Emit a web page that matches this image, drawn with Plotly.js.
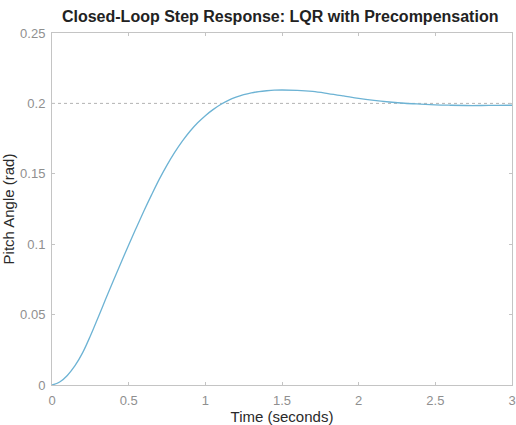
<!DOCTYPE html>
<html>
<head>
<meta charset="utf-8">
<script src="https://cdn.plot.ly/plotly-3.0.1.min.js"></script>
<style>html,body{margin:0;padding:0;background:#fff;}#chart{width:516px;height:425px;}</style>
</head>
<body>
<div id="chart"></div>
<script>
const timeSec = [0, 0.05, 0.1, 0.15, 0.2, 0.25, 0.3, 0.35, 0.4, 0.45, 0.5, 0.55, 0.6, 0.65, 0.7, 0.75, 0.8, 0.85, 0.9, 0.95, 1.0, 1.05, 1.1, 1.15, 1.2, 1.25, 1.3, 1.35, 1.4, 1.45, 1.5, 1.6, 1.7, 1.8, 1.9, 2.0, 2.1, 2.2, 2.3, 2.4, 2.5, 2.6, 2.7, 2.8, 2.9, 3.0];
const pitchAngle = [0, 0.0021, 0.0068, 0.0137, 0.0230, 0.0348, 0.0478, 0.0610, 0.0741, 0.0869, 0.0995, 0.1117, 0.1237, 0.1352, 0.1462, 0.1562, 0.1652, 0.1732, 0.1802, 0.1862, 0.1913, 0.1956, 0.1992, 0.2021, 0.2044, 0.2062, 0.2075, 0.2084, 0.2090, 0.2094, 0.2095, 0.2093, 0.2085, 0.2070, 0.2053, 0.2035, 0.2021, 0.2010, 0.2001, 0.1995, 0.1990, 0.1987, 0.1985, 0.1985, 0.1986, 0.1987];
const steadyStateX = [0, 3];
const steadyStateY = [0.2, 0.2];
const xTicks = [0, 0.5, 1, 1.5, 2, 2.5, 3];
const xTickLabels = ['0', '0.5', '1', '1.5', '2', '2.5', '3'];
const yTicks = [0, 0.05, 0.1, 0.15, 0.2, 0.25];
const yTickLabels = ['0', '0.05', '0.1', '0.15', '0.2', '0.25'];

const traces = [
  {x: steadyStateX, y: steadyStateY, mode: 'lines', line: {color: '#a0a0a0', width: 0.8, dash: 'dot'}, hoverinfo: 'skip', showlegend: false},
  {x: timeSec, y: pitchAngle, mode: 'lines', line: {color: '#6db3d4', width: 1.3, shape: 'spline', smoothing: 1}, showlegend: false}
];

const fontFam = 'Liberation Sans, Arial, Helvetica, sans-serif';
const axisCommon = {
  showgrid: false, zeroline: false, showline: true, linecolor: '#c4c4c4', linewidth: 1,
  mirror: 'ticks', ticks: 'inside', ticklen: 3, tickcolor: '#c4c4c4', tickwidth: 1,
  tickfont: {family: fontFam, size: 13, color: '#8f8f8f'}
};

const layout = {
  width: 516, height: 425,
  margin: {l: 52, r: 4, t: 33, b: 40},
  paper_bgcolor: '#ffffff', plot_bgcolor: '#ffffff',
  title: {text: '<b>Closed-Loop Step Response: LQR with Precompensation</b>', x: 0.543, xanchor: 'center', y: 0.962, yanchor: 'middle',
    font: {family: fontFam, size: 16, color: '#222222'}},
  xaxis: Object.assign({}, axisCommon, {range: [0, 3], tickvals: xTicks, ticktext: xTickLabels, ticklabelstandoff: 3,
    title: {text: 'Time (seconds)', standoff: 9, font: {family: fontFam, size: 15, color: '#2a2a2a'}}}),
  yaxis: Object.assign({}, axisCommon, {range: [0, 0.25], tickvals: yTicks, ticktext: yTickLabels, ticklabelstandoff: 3,
    title: {text: 'Pitch Angle (rad)', standoff: 6, font: {family: fontFam, size: 15, color: '#2a2a2a'}}}),
  showlegend: false
};

Plotly.newPlot('chart', traces, layout, {displayModeBar: false, staticPlot: true});
</script>
</body>
</html>
